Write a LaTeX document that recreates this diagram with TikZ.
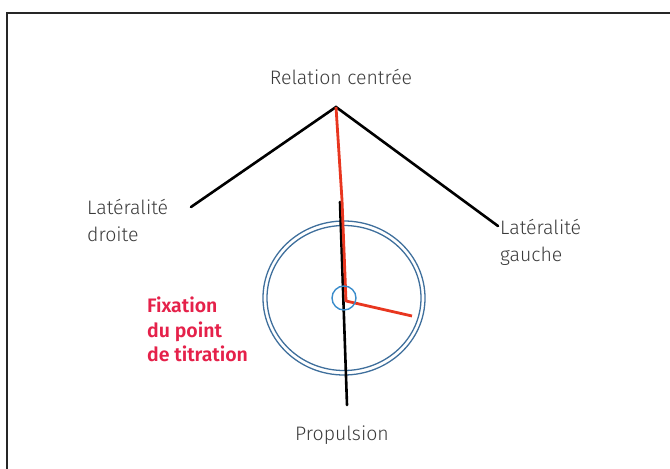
\documentclass[tikz,border=0pt]{standalone}
\usepackage{fontspec}
\setmainfont{Fira Sans Light}
\usetikzlibrary{positioning}
\definecolor{textgray}{HTML}{3A3A3A}
\definecolor{ringblue}{HTML}{3F6F9C}
\definecolor{dotblue}{HTML}{3A8CCB}
\definecolor{trackred}{HTML}{E8361F}
\definecolor{notered}{HTML}{E5214A}

\begin{document}
\begin{tikzpicture}[x=1pt,y=-1pt,
  lbl/.style={font=\fontsize{19.5}{27}\selectfont,text=textgray,inner sep=0pt,align=left},
  note/.style={font=\fontsize{19.5}{24.5}\selectfont\bfseries,text=notered,inner sep=0pt,align=left},
  bar/.style={black,line width=2.6pt,line cap=round},
  track/.style={trackred,line width=2.8pt,line join=round},
  ring/.style={ringblue,line width=1.3pt}
]
\useasboundingbox (0,0) rectangle (670,469);
\draw[black!85,line width=1.6pt] (7,469) -- (7,13) -- (670,13);

% points of the diagram
\coordinate (apex) at (336,107);
\coordinate (rd) at (191,207);
\coordinate (rg) at (498,226);
\coordinate (vtop) at (340,202);
\coordinate (vbot) at (347,405);
\coordinate (ctr) at (344,298);
\coordinate (k1) at (342,200);
\coordinate (k2) at (346,301);
\coordinate (tip) at (412,316);

% rings
\draw[ring] (ctr) ellipse [x radius=81,y radius=77];
\draw[ring] (ctr) ellipse [x radius=77,y radius=72.5];

% black lines
\draw[bar] (rd) -- (apex) -- (rg);
\draw[bar] (vtop) -- (vbot);

% red track
\draw[track] (apex) -- (k1) -- (k2) -- (tip);
\draw[dotblue,line width=1.4pt] (ctr) circle [radius=12];

% labels
\node[lbl,anchor=base] (rc) at (341,84) {Relation centrée};
\node[lbl,anchor=north west] (ld) at (87,199) {Latéralité\\droite};
\node[lbl,anchor=north west] (lg) at (500,219) {Latéralité\\gauche};
\node[lbl,anchor=base] (pr) at (342,440) {Propulsion};
\node[note,anchor=north west] (fx) at (147,297) {Fixation\\du point\\de titration};
\end{tikzpicture}
\end{document}
